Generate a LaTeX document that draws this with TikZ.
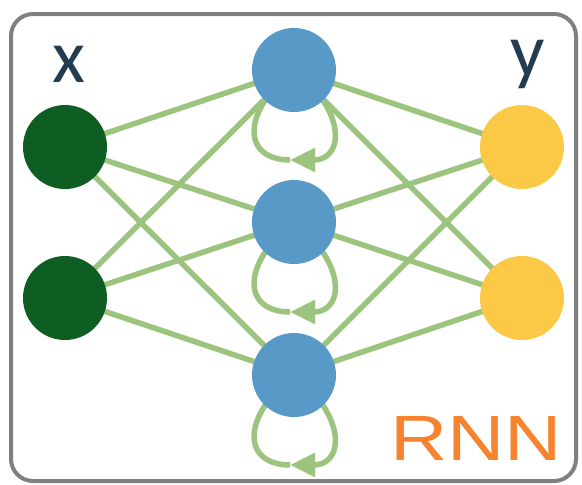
\documentclass[tikz,border=0pt]{standalone}
\usepackage{fontspec}
\setmainfont{Liberation Sans}
\newfontfamily\labelfont{Carlito}
\usetikzlibrary{arrows.meta}
\pgfdeclarelayer{back}
\pgfsetlayers{back,main}
\definecolor{inblue}{HTML}{5899C8}
\definecolor{ingreen}{HTML}{0E5E24}
\definecolor{outyellow}{HTML}{FBC945}
\definecolor{wire}{HTML}{9DC47E}
\definecolor{ink}{HTML}{243C4F}
\definecolor{tagorange}{HTML}{F5832F}
\definecolor{frame}{HTML}{808080}
\begin{document}
\begin{tikzpicture}[x=1pt,y=-1pt,
  neuron/.style={circle,minimum size=84pt,inner sep=0pt},
  wireline/.style={draw=wire,line width=5.5pt},
  loopline/.style={draw=wire,line width=5.5pt}]
\useasboundingbox (0,0) rectangle (582,485);
\draw[frame,line width=4pt,rounded corners=22pt] (11,14) rectangle (576,481);

% neurons
\node[neuron,fill=ingreen] (i1) at (65,147) {};
\node[neuron,fill=ingreen] (i2) at (65,298) {};
\node[neuron,fill=inblue] (h1) at (294,70) {};
\node[neuron,fill=inblue] (h2) at (294,222) {};
\node[neuron,fill=inblue] (h3) at (294,375) {};
\node[neuron,fill=outyellow] (o1) at (522,147) {};
\node[neuron,fill=outyellow] (o2) at (522,298) {};

\begin{pgfonlayer}{back}
% connections, behind the neurons
\foreach \a in {i1,i2}
  \foreach \b in {h1,h2,h3}
    \draw[wireline] (\a.center) -- (\b.center);
\foreach \a in {h1,h2,h3}
  \foreach \b in {o1,o2}
    \draw[wireline] (\a.center) -- (\b.center);
% recurrent self-loops
\foreach \h in {h1,h2,h3}{
  \coordinate (tip) at ([shift={(-4,90)}]\h.center);
  \draw[loopline,-{Triangle[length=25pt,width=23pt]}]
    ([shift={(26,26)}]\h.center) .. controls ([shift={(52,62)}]\h.center)
    and ([shift={(42,90)}]\h.center) .. (tip);
  \draw[loopline]
    (tip) .. controls ([shift={(-40,90)}]\h.center)
    and ([shift={(-52,62)}]\h.center) .. ([shift={(-26,26)}]\h.center);
}
\end{pgfonlayer}

% labels
\node[text=ink,font=\labelfont\fontsize{76}{76}\selectfont,inner sep=0pt] (xl) at (69,64) {x};
\node[text=ink,font=\labelfont\fontsize{76}{76}\selectfont,inner sep=0pt] (yl) at (528,64) {y};
\node[text=tagorange,font=\fontsize{64}{64}\selectfont,inner sep=0pt,xscale=1.24,anchor=base] (tag) at (476,460) {RNN};
\end{tikzpicture}
\end{document}
